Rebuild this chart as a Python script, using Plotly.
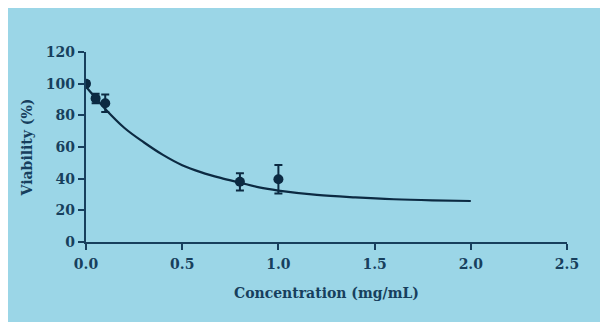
import plotly.graph_objects as go

# measured data points
conc = [0.0, 0.05, 0.1, 0.8, 1.0]
viability = [100, 90.7, 87.6, 38, 39.6]
err = [1.5, 3, 5.5, 5.5, 9]

# fitted curve
curve_x = [0.0, 0.05, 0.1, 0.2, 0.3, 0.4, 0.5, 0.6, 0.7, 0.8, 0.9, 1.0, 1.2, 1.4, 1.6, 1.8, 2.0]
curve_y = [98, 91, 84, 72, 63, 55, 48.5, 44, 40.5, 37.5, 34.5, 32.5, 29.8, 28.2, 27.0, 26.3, 25.9]

x_ticks = [0.0, 0.5, 1.0, 1.5, 2.0, 2.5]
x_ticklabels = ["0.0", "0.5", "1.0", "1.5", "2.0", "2.5"]
y_ticks = [0, 20, 40, 60, 80, 100, 120]

BG = "#9bd6e7"
INK = "#173f5d"
DARK = "#0c2a42"
FONT = "DejaVu Serif"

fig = go.Figure()
fig.add_trace(go.Scatter(x=curve_x, y=curve_y, mode="lines",
                         line=dict(color=DARK, width=2.2, shape="spline"),
                         hoverinfo="skip", showlegend=False))
fig.add_trace(go.Scatter(x=conc, y=viability, mode="markers",
                         marker=dict(color=DARK, size=10),
                         error_y=dict(type="data", array=err, visible=True,
                                      color=DARK, thickness=2, width=4),
                         showlegend=False))

axis_common = dict(showgrid=False, zeroline=False, showline=True,
                   linecolor=INK, linewidth=2.2, ticks="outside",
                   ticklen=6, tickwidth=2, tickcolor=INK,
                   tickfont=dict(family=FONT, size=14, color=INK, weight="bold"))

fig.update_xaxes(range=[0, 2.5], tickvals=x_ticks, ticktext=x_ticklabels,
                 ticklabelstandoff=2,
                 title=dict(text="Concentration (mg/mL)", standoff=17,
                            font=dict(family=FONT, size=14, color=INK, weight="bold")),
                 **axis_common)
fig.update_yaxes(range=[0, 120], tickvals=y_ticks,
                 title=dict(text="Viability (%)", standoff=10,
                            font=dict(family=FONT, size=14, color=INK, weight="bold")),
                 **axis_common)

fig.update_layout(width=608, height=322,
                  margin=dict(l=78, r=49, t=44, b=88),
                  paper_bgcolor=BG, plot_bgcolor=BG)

fig.write_html("out.html")
